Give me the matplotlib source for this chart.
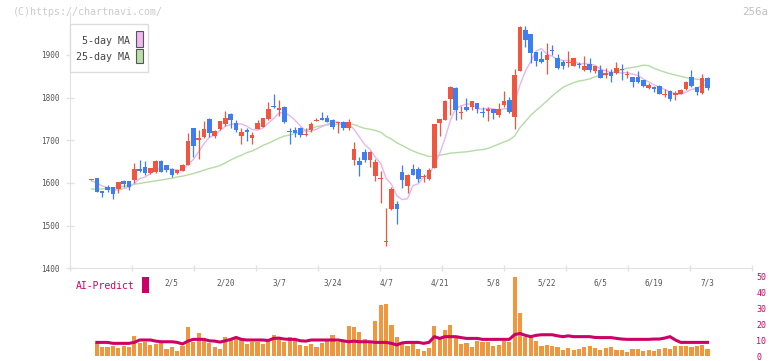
import numpy as np
import matplotlib
matplotlib.use("Agg")
import matplotlib.pyplot as plt
from matplotlib.patches import Rectangle
from matplotlib.transforms import Affine2D

plt.rcParams["font.family"] = ["DejaVu Sans Mono"]

# daily candles, 2025/1/15 .. 7/3 (116 trading days)
opens = [1607.5, 1612, 1581, 1590, 1590, 1585, 1604, 1604, 1607, 1633,
         1637, 1623, 1625, 1651, 1642, 1633, 1623, 1628, 1642, 1729,
         1700, 1708, 1750, 1711, 1726, 1739, 1762, 1741, 1711, 1725,
         1706, 1727, 1732, 1749, 1780, 1772, 1778, 1722, 1724, 1729,
         1712, 1724, 1746, 1753, 1752, 1748, 1740, 1744, 1730, 1654,
         1652, 1673, 1654, 1616, 1609, 1462, 1538, 1551, 1626, 1593,
         1633, 1633, 1614, 1609, 1636, 1741, 1748, 1797, 1823, 1765,
         1777, 1777, 1787, 1766, 1768, 1773, 1759, 1783, 1795, 1755,
         1863, 1959, 1949, 1908, 1890, 1888, 1911, 1894, 1884, 1880,
         1875, 1878, 1865, 1880, 1863, 1865, 1852, 1859, 1857, 1866,
         1852, 1848, 1848, 1841, 1823, 1826, 1828, 1805, 1816, 1806,
         1809, 1820, 1849, 1826, 1810, 1847]
highs = [1610, 1612, 1581, 1595, 1591, 1602, 1607, 1604, 1647, 1654,
         1651, 1636, 1654, 1654, 1643, 1634, 1631, 1644, 1717, 1729,
         1725, 1745, 1753, 1724, 1746, 1769, 1763, 1748, 1728, 1728,
         1720, 1748, 1753, 1789, 1808, 1794, 1780, 1730, 1732, 1732,
         1728, 1742, 1753, 1766, 1759, 1749, 1743, 1746, 1750, 1697,
         1662, 1680, 1674, 1656, 1628, 1542, 1590, 1558, 1642, 1620,
         1645, 1638, 1621, 1636, 1739, 1751, 1794, 1827, 1826, 1781,
         1799, 1793, 1788, 1777, 1777, 1774, 1787, 1815, 1802, 1867,
         1969, 1969, 1950, 1908, 1910, 1927, 1923, 1902, 1888, 1909,
         1893, 1884, 1898, 1894, 1874, 1876, 1870, 1866, 1883, 1878,
         1863, 1849, 1862, 1842, 1835, 1827, 1829, 1820, 1817, 1816,
         1820, 1839, 1865, 1826, 1856, 1849]
lows = [1607, 1580, 1566, 1580, 1563, 1577, 1591, 1583, 1601, 1625,
        1619, 1622, 1624, 1625, 1626, 1614, 1622, 1627, 1641, 1662,
        1656, 1705, 1708, 1705, 1725, 1734, 1730, 1720, 1692, 1698,
        1692, 1726, 1731, 1748, 1775, 1758, 1740, 1692, 1708, 1708,
        1711, 1720, 1746, 1747, 1743, 1727, 1718, 1723, 1724, 1642,
        1617, 1650, 1638, 1605, 1554, 1453, 1537, 1504, 1589, 1577,
        1618, 1603, 1603, 1608, 1635, 1711, 1747, 1759, 1748, 1749,
        1769, 1771, 1765, 1754, 1746, 1751, 1754, 1777, 1765, 1726,
        1862, 1918, 1882, 1873, 1882, 1855, 1900, 1866, 1868, 1871,
        1873, 1869, 1863, 1861, 1858, 1846, 1845, 1837, 1856, 1841,
        1847, 1826, 1835, 1826, 1820, 1814, 1808, 1801, 1793, 1795,
        1808, 1819, 1826, 1806, 1809, 1818]
closes = [1609, 1580, 1577, 1584, 1573, 1602, 1598, 1591, 1633, 1627,
          1623, 1635, 1651, 1626, 1630, 1619, 1630, 1642, 1698, 1687,
          1706, 1727, 1716, 1722, 1745, 1753, 1748, 1725, 1720, 1719,
          1713, 1741, 1752, 1773, 1778, 1776, 1744, 1720, 1718, 1713,
          1714, 1738, 1747, 1748, 1744, 1732, 1742, 1730, 1744, 1680,
          1642, 1654, 1673, 1650, 1611, 1465, 1586, 1538, 1607, 1619,
          1619, 1609, 1616, 1631, 1738, 1750, 1791, 1826, 1770, 1767,
          1770, 1792, 1773, 1765, 1773, 1765, 1773, 1792, 1767, 1853,
          1965, 1934, 1905, 1887, 1884, 1900, 1909, 1870, 1873, 1884,
          1892, 1876, 1874, 1865, 1873, 1847, 1857, 1851, 1869, 1864,
          1855, 1837, 1836, 1828, 1830, 1820, 1809, 1807, 1797, 1810,
          1818, 1836, 1827, 1814, 1847, 1823]
ma5 = [1605, 1600, 1593, 1589, 1585, 1583, 1587, 1590, 1599, 1610,
       1614, 1622, 1634, 1632, 1633, 1632, 1631, 1629, 1644, 1655,
       1673, 1692, 1707, 1712, 1723, 1733, 1737, 1739, 1738, 1733,
       1725, 1724, 1729, 1740, 1751, 1764, 1765, 1758, 1747, 1734,
       1722, 1721, 1726, 1732, 1738, 1742, 1743, 1739, 1738, 1726,
       1708, 1690, 1679, 1660, 1646, 1611, 1597, 1570, 1561, 1563,
       1594, 1598, 1614, 1619, 1643, 1669, 1705, 1747, 1775, 1781,
       1785, 1785, 1774, 1773, 1775, 1774, 1770, 1774, 1774, 1790,
       1830, 1862, 1885, 1909, 1915, 1902, 1897, 1890, 1887, 1887,
       1886, 1879, 1880, 1878, 1876, 1867, 1863, 1859, 1859, 1858,
       1859, 1855, 1852, 1844, 1837, 1830, 1825, 1819, 1813, 1809,
       1808, 1813, 1819, 1822, 1829, 1830]
ma25 = [1586, 1585, 1586, 1587, 1588, 1590, 1592, 1594, 1597, 1599,
        1601, 1603, 1605, 1607, 1609, 1611, 1614, 1616, 1619, 1622,
        1626, 1630, 1634, 1637, 1641, 1647, 1654, 1660, 1665, 1671,
        1675, 1681, 1688, 1693, 1699, 1705, 1710, 1712, 1716, 1719,
        1723, 1728, 1732, 1734, 1736, 1737, 1738, 1738, 1739, 1737,
        1732, 1728, 1726, 1723, 1719, 1709, 1703, 1694, 1688, 1681,
        1675, 1670, 1666, 1662, 1663, 1665, 1667, 1670, 1671, 1672,
        1673, 1675, 1677, 1678, 1681, 1686, 1691, 1696, 1701, 1710,
        1730, 1744, 1759, 1770, 1781, 1792, 1804, 1814, 1824, 1830,
        1835, 1839, 1841, 1844, 1849, 1852, 1854, 1857, 1862, 1865,
        1869, 1871, 1873, 1876, 1875, 1869, 1864, 1860, 1856, 1853,
        1850, 1847, 1845, 1843, 1842, 1839]
volume = [np.nan, 8.0, 5.5, 5.5, 6.5, 4.8, 6.1, 5.5, 12.4, 8.0,
          8.8, 6.7, 7.8, 8.4, 4.2, 5.5, 2.9, 6.1, 18.0, 8.8,
          14.2, 10.1, 8.2, 5.7, 4.4, 12.2, 10.7, 11.7, 10.9, 7.3,
          8.8, 8.6, 7.5, 9.2, 13.0, 10.5, 8.6, 12.2, 10.3, 6.7,
          6.1, 7.3, 5.7, 8.0, 10.1, 13.0, 8.8, 8.6, 18.6, 18.0,
          15.1, 10.5, 9.2, 22.0, 31.8, 32.4, 19.3, 11.7, 8.6, 6.3,
          7.5, 4.6, 3.2, 4.8, 18.6, 11.1, 16.1, 19.3, 11.1, 7.3,
          8.0, 5.7, 9.4, 8.6, 8.6, 6.1, 6.7, 9.4, 8.6, 49.4,
          26.8, 12.2, 11.7, 9.4, 6.1, 7.0, 6.5, 5.7, 3.7, 4.8,
          3.7, 4.2, 5.7, 6.3, 4.8, 3.7, 4.8, 5.5, 3.9, 3.9,
          2.4, 4.2, 4.2, 3.2, 3.7, 3.2, 4.2, 4.8, 4.6, 6.1,
          6.3, 6.3, 5.7, 6.1, 7.0, 4.4]
ai_predict = [np.nan, 8.6, 8.6, 8.6, 8.0, 8.0, 8.0, 8.0, 8.6, 10.1,
              10.1, 10.1, 9.4, 9.0, 9.0, 9.0, 8.6, 7.6, 9.4, 10.5,
              10.5, 10.5, 9.6, 9.4, 8.8, 9.6, 10.5, 11.7, 10.5, 10.1,
              10.1, 10.1, 10.1, 9.8, 11.1, 11.3, 10.7, 10.5, 10.5, 9.6,
              9.4, 10.1, 10.1, 10.1, 10.1, 10.1, 10.1, 9.6, 9.0, 9.4,
              9.0, 9.0, 9.0, 8.6, 8.6, 8.6, 8.0, 7.0, 8.3, 8.6,
              8.6, 8.6, 8.0, 8.6, 12.2, 11.1, 12.2, 12.2, 12.2, 11.6,
              11.1, 11.1, 11.1, 10.5, 10.5, 10.5, 10.5, 10.5, 10.5, 13.5,
              14.2, 13.0, 12.2, 13.0, 13.4, 13.4, 13.4, 12.7, 12.2, 12.7,
              12.2, 12.2, 12.2, 12.2, 11.7, 11.6, 11.6, 11.6, 11.1, 10.7,
              10.5, 10.5, 10.5, 10.5, 10.5, 10.7, 10.7, 11.3, 12.2, 10.1,
              8.6, 8.6, 8.6, 8.6, 8.6, 8.6]
tick_labels = ["2/5", "2/20", "3/7", "3/24", "4/7", "4/21",
               "5/8", "5/22", "6/5", "6/19", "7/3"]
tick_days = [15, 25, 35, 45, 55, 65, 75, 85, 95, 105, 115]

RED, BLUE = "#f0553f", "#3f7ef0"
GRID = "#e2e2e2"
MAGENTA = "#cc0066"

W, H = 772, 361
fig = plt.figure(figsize=(W / 100, H / 100), dpi=100)
px = Affine2D().scale(1 / W, -1 / H).translate(0, 1) + fig.transFigure


def box(x0, y0, x1, y1):
    return [x0 / W, 1 - y1 / H, (x1 - x0) / W, (y1 - y0) / H]


x = np.arange(len(closes))
o, h, l, c = map(np.array, (opens, highs, lows, closes))
cols = np.where(c >= o, RED, BLUE)
XL = (-4.01, 123.3)

# price panel
ax = fig.add_axes(box(70, 12.3, 752, 268.3))
ax.plot(x, ma25, color="#b5dba5", lw=1.0, zorder=1)
ax.plot(x, ma5, color="#e8b6ee", lw=1.0, zorder=1)
ax.vlines(x, l, h, colors=cols, lw=0.9, zorder=2)
ax.bar(x, np.maximum(np.abs(c - o), 2.5), bottom=np.minimum(o, c),
       width=0.85, color=cols, zorder=3)
ax.set_xlim(*XL)
ax.set_ylim(1400, 2000)
for s in ("top", "right"):
    ax.spines[s].set_visible(False)
for s in ("left", "bottom"):
    ax.spines[s].set_color(GRID)
ax.set_yticks(range(1400, 2000, 100))
ax.tick_params(axis="y", direction="inout", length=5.5, width=1, color=GRID,
               labelcolor="#555555", labelsize=5.5, pad=5)
ax.set_xticks(tick_days, tick_labels)
ax.tick_params(axis="x", length=0, labelcolor="#555555", labelsize=5.5, pad=7)
ax.set_xticks([XL[0] + k * (XL[1] - XL[0]) / 11 for k in range(12)], minor=True)
ax.tick_params(axis="x", which="minor", direction="inout", length=4, width=1, color=GRID)

# volume / AI panel
axv = fig.add_axes(box(70, 273.2, 752, 356.1))
axv.set_facecolor("none")
axv.bar(x, volume, width=0.78, color="#f0963c", zorder=1)
axv.plot(x, ai_predict, color=MAGENTA, lw=2.2, zorder=2)
axv.set_xlim(*XL)
axv.set_ylim(0, 52)
for s in axv.spines.values():
    s.set_visible(False)
axv.set_xticks([])
axv.yaxis.tick_right()
axv.set_yticks(range(0, 51, 10))
axv.tick_params(axis="y", length=0, labelcolor=MAGENTA, labelsize=6, pad=3)

# legend
fig.add_artist(Rectangle((70, 24), 78.3, 47.7, transform=px, facecolor="white",
                         edgecolor="#dddddd", lw=1))
fig.text(129.5, 40.7, "5-day MA", transform=px, ha="right", va="center",
         fontsize=7.2, color="#444444")
fig.text(129.5, 56.5, "25-day MA", transform=px, ha="right", va="center",
         fontsize=7.2, color="#444444")
fig.add_artist(Rectangle((136, 31), 6.7, 15.7, transform=px, facecolor="#efb8ee",
                         edgecolor="#555555", lw=0.8))
fig.add_artist(Rectangle((136, 48.7), 6.7, 14.7, transform=px, facecolor="#b9dfa9",
                         edgecolor="#555555", lw=0.8))

fig.text(76, 286, "AI-Predict", transform=px, ha="left", va="center",
         fontsize=7, color=MAGENTA)
fig.add_artist(Rectangle((142.3, 277.3), 6.4, 15.4, transform=px,
                         facecolor=MAGENTA, edgecolor="none"))

fig.text(13, 12.3, "(C)https://chartnavi.com/", transform=px, ha="left",
         va="center", fontsize=7.2, color="#cccccc")
fig.text(768, 12.3, "256a", transform=px, ha="right", va="center",
         fontsize=7.8, color="#c0c0c0")

fig.savefig("out.png", dpi=100)
